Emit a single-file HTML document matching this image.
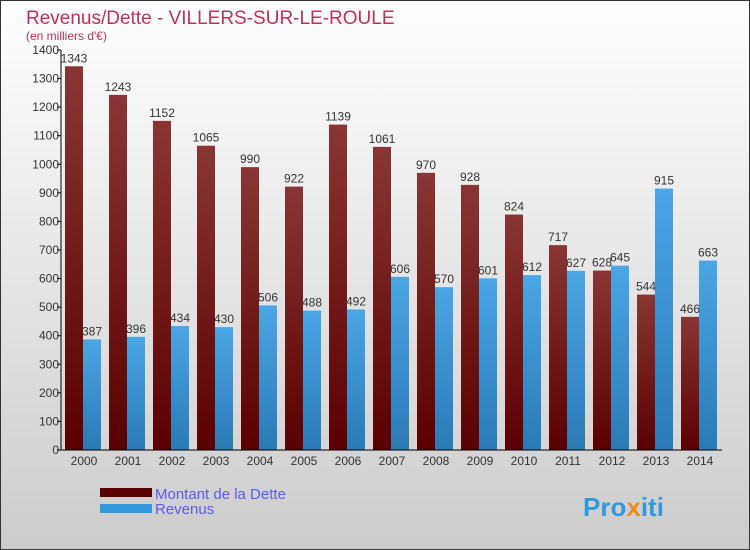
<!DOCTYPE html>
<html><head><meta charset="utf-8"><style>
body{margin:0}
svg{display:block;font-family:"Liberation Sans",sans-serif}
</style></head><body>
<svg width="750" height="550" viewBox="0 0 750 550">
<defs>
<linearGradient id="bg" x1="0" y1="0" x2="0" y2="1"><stop offset="0" stop-color="#ffffff"/><stop offset="1" stop-color="#cccccc"/></linearGradient>
<linearGradient id="gd" x1="0" y1="0" x2="0" y2="1"><stop offset="0" stop-color="#8a3535"/><stop offset="1" stop-color="#5a0000"/></linearGradient>
<linearGradient id="gr" x1="0" y1="0" x2="0" y2="1"><stop offset="0" stop-color="#4aa6e6"/><stop offset="1" stop-color="#2a7ab4"/></linearGradient>
</defs>
<rect x="0.5" y="0.5" width="749" height="549" fill="url(#bg)" stroke="#333"/>
<text x="26" y="24" font-size="19" fill="#c0305a">Revenus/Dette - VILLERS-SUR-LE-ROULE</text>
<text x="26" y="40" font-size="12" fill="#c0305a">(en milliers d'€)</text>
<g id="grid"></g>
<g id="bars"></g>
<g id="axes"></g>
<rect x="100" y="488" width="52" height="9" fill="#5a0000"/>
<text x="155" y="499" font-size="15" fill="#5a5aee">Montant de la Dette</text>
<rect x="100" y="504" width="52" height="9" fill="#3399dd"/>
<text x="155" y="514" font-size="15" fill="#5a5aee">Revenus</text>
<text x="583" y="516" font-size="26" font-weight="bold" fill="#3399dd">Pro<tspan fill="#f08a1a">x</tspan>iti</text>
</svg>
<script>
const years=["2000","2001","2002","2003","2004","2005","2006","2007","2008","2009","2010","2011","2012","2013","2014"];
const dette=[1343,1243,1152,1065,990,922,1139,1061,970,928,824,717,628,544,466];
const revenus=[387,396,434,430,506,488,492,606,570,601,612,627,645,915,663];
const ticks=[0,100,200,300,400,500,600,700,800,900,1000,1100,1200,1300,1400];
const NS="http://www.w3.org/2000/svg";
const x0=62,x1=722,y0=450,yTop=50,maxV=1400;
const gw=(x1-x0)/years.length;
const y=v=>y0-v/maxV*(y0-yTop);
function mk(t,a,p){const e=document.createElementNS(NS,t);for(const k in a)e.setAttribute(k,a[k]);p.appendChild(e);return e;}
const axes=document.getElementById('axes'),bars=document.getElementById('bars');
const ax=mk('line',{x1:x0-1,y1:yTop,x2:x0-1,y2:y0,stroke:'#000'},axes);


const bx=mk('line',{x1:x0-1,y1:y0,x2:x1,y2:y0,stroke:'#000'},axes);


ticks.forEach(t=>{
  const tl=mk('line',{x1:x0-5,x2:x0-1,y1:y(t),y2:y(t),stroke:'#000'},axes);
  
  
  const tx=mk('text',{x:x0-3,y:y(t)+4,'font-size':12,'text-anchor':'end',fill:'#333'},axes);
  tx.textContent=t;
  
  
});
years.forEach((yr,i)=>{
  const gx=x0+i*gw;
  const d=mk('rect',{x:gx+3,y:y(dette[i]),width:18,height:y0-y(dette[i]),fill:'url(#gd)'},bars);
  
  
  const r=mk('rect',{x:gx+21,y:y(revenus[i]),width:18,height:y0-y(revenus[i]),fill:'url(#gr)'},bars);
  
  
  const dl=mk('text',{x:gx+12,y:y(dette[i])-4,'font-size':12,'text-anchor':'middle',fill:'#333'},bars);
  dl.textContent=dette[i];
  
  
  const rl=mk('text',{x:gx+30,y:y(revenus[i])-4,'font-size':12,'text-anchor':'middle',fill:'#333'},bars);
  rl.textContent=revenus[i];
  
  
  const xl=mk('text',{x:gx+gw/2,y:y0+15,'font-size':12,'text-anchor':'middle',fill:'#333'},axes);
  xl.textContent=yr;
  
  
});
</script>
</body></html>
